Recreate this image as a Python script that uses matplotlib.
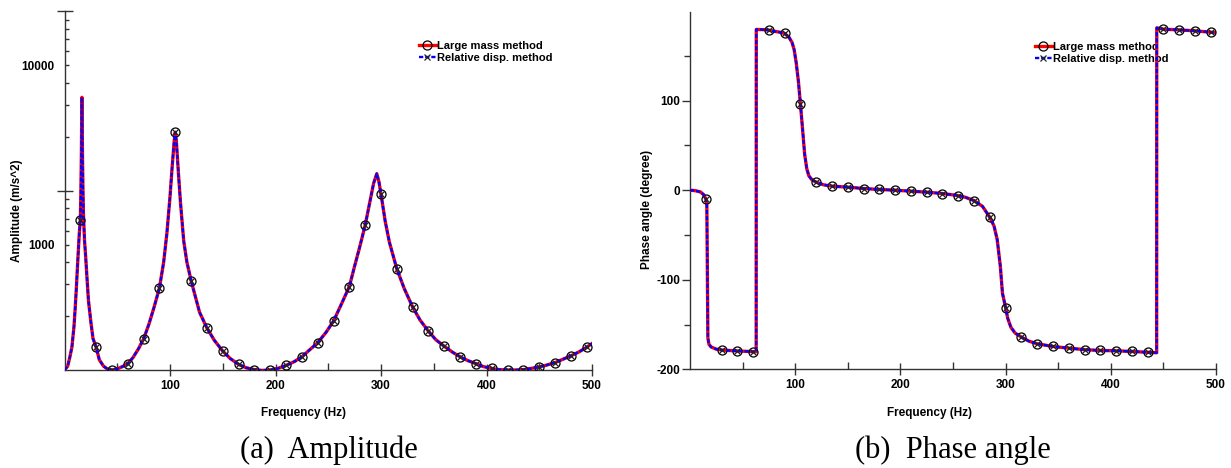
"""
Frequency response comparison: large mass method vs relative displacement method.

Produces out.png with two panels:
  (a) amplitude (log scale)
  (b) phase angle
"""

import numpy as np
import matplotlib
matplotlib.use("Agg")
import matplotlib.pyplot as plt
from matplotlib.ticker import FixedLocator, NullFormatter, FuncFormatter

OUT_PNG = "out.png"

LABEL_FONT = "Liberation Sans"
CAPTION_FONT = "Liberation Serif"
SMALL = 8.5

SERIES_LABELS = ["Large mass method", "Relative disp. method"]
SERIES_COLORS = {"large": "#ff0000", "rel": "#0000ff"}

plt.rcParams["axes.unicode_minus"] = False

# ---------------------------------------------------------------------------
# Data
# ---------------------------------------------------------------------------

amp_freq = [0, 3, 5, 7, 9, 10, 11, 12, 13, 14, 15, 15.5, 16, 16.5, 17, 17.5,
            18, 19, 20, 21, 22.7, 25, 27, 30, 33, 37, 41, 45, 50, 55, 60, 65,
            70, 75, 80, 85, 90, 94, 97, 100, 102, 104, 105, 106, 108, 110,
            113, 116, 120, 128, 135, 142, 150, 157, 165, 172, 180, 187, 195,
            202, 210, 218, 225, 232, 240, 248, 255, 262, 270, 275, 280, 285,
            290, 293, 296, 298, 300, 304, 308, 315, 322, 330, 337, 345, 352,
            360, 368, 375, 382, 390, 397, 405, 412, 420, 428, 435, 442, 450,
            457, 465, 472, 480, 488, 495, 500]
amp_large = [200, 210, 235, 268, 350, 430, 540, 700, 900, 1150, 1372, 1900,
             3200, 6640, 3300, 2000, 1450, 1050, 870, 700, 489, 370, 300, 268,
             228, 210, 202, 200, 203, 209, 217, 235, 262, 298, 360, 450, 574,
             800, 1150, 1850, 2700, 3800, 4244, 3800, 2500, 1700, 1050, 800,
             631, 420, 343, 293, 255, 232, 215, 206, 201, 199, 200, 204, 212,
             223, 237, 258, 284, 325, 375, 460, 584, 760, 980, 1284, 1800,
             2200, 2490, 2250, 1915, 1350, 1030, 733, 570, 449, 380, 329, 295,
             271, 251, 237, 226, 217, 209, 204, 201, 200, 200, 201, 204, 208,
             213, 220, 229, 240, 253, 268, 281]
# both methods give the same curve to plotting accuracy
amp_rel = list(amp_large)

phase_freq = [0, 5, 10, 13, 15, 16, 16.5, 17, 18, 20, 25, 30, 45, 60, 62.9,
              63, 70, 75, 80, 85, 90, 94, 97, 99, 101, 103, 105, 107, 109,
              111, 113, 116, 120, 127, 135, 150, 165, 180, 195, 210, 225, 240,
              255, 262, 270, 278, 285, 289, 292, 295, 297, 300, 302, 305, 309,
              315, 322, 330, 345, 360, 375, 390, 405, 420, 435, 443.6, 443.7,
              450, 465, 480, 495, 500]
phase_large = [0, -0.5, -2, -5, -9.7, -15, -90, -165, -172, -175, -177.5,
               -178.5, -179.5, -180.3, -180.5, 179.5, 179.3, 178.7, 177.5,
               176.5, 175, 171, 165, 157, 142, 122, 96, 68, 40, 24, 16, 11.5,
               9, 6, 4.5, 3.4, 1.9, 0.8, 0, -1.1, -2.2, -3.7, -6, -8, -11.6,
               -18, -30.3, -40, -55, -85, -115, -131, -143, -153, -159.5, -164,
               -168.5, -171.5, -174.5, -176.4, -178, -179, -179.3, -180.1,
               -181, -181.5, 181.3, 179.8, 179, 178, 176.4, 175.8]
phase_rel = list(phase_large)

freq_ticks = [100, 200, 300, 400, 500]
freq_minor = [50, 150, 250, 350, 450]
amp_long_ticks = [2000, 20000]
amp_minor = [400, 600, 800, 1000, 1200, 1400, 1600, 1800,
             4000, 6000, 8000, 10000, 12000, 14000, 16000, 18000]
amp_labelled = [1000, 10000]
phase_ticks = [-200, -100, 0, 100]
phase_minor = [-150, -50, 50, 150]

MARKER_STEP = 15  # Hz between plot symbols


# ---------------------------------------------------------------------------
# Plotting helpers
# ---------------------------------------------------------------------------

def marker_idx(freq):
    return [i for i, f in enumerate(freq) if f > 0 and f % MARKER_STEP == 0]


def _curves(ax, freq, y_large, y_rel):
    idx = marker_idx(freq)
    ax.plot(freq, y_large, color=SERIES_COLORS["large"], lw=2.4,
            marker="o", markevery=idx, ms=6.5, mfc="none", mec="black",
            mew=0.9, label=SERIES_LABELS[0], zorder=3)
    ax.plot(freq, y_rel, color=SERIES_COLORS["rel"], lw=1.7,
            linestyle=(0, (1.8, 0.8)), marker="x", markevery=idx, ms=5,
            mec="#222222", mew=0.9, label=SERIES_LABELS[1], zorder=4)


def _style(ax):
    for side in ("top", "right"):
        ax.spines[side].set_visible(False)
    for side in ("left", "bottom"):
        ax.spines[side].set_color("#333333")
        ax.spines[side].set_linewidth(1.0)
    ax.set_xlim(0, 500)
    ax.xaxis.set_major_locator(FixedLocator(freq_ticks))
    ax.xaxis.set_minor_locator(FixedLocator(freq_minor))
    ax.tick_params(axis="x", which="major", direction="inout", length=8,
                   width=1, color="#333333", pad=3)
    ax.tick_params(axis="x", which="minor", direction="in", length=5,
                   width=1, color="#333333")
    for lab in ax.get_xticklabels() + ax.get_yticklabels(which="both"):
        lab.set_fontfamily(LABEL_FONT)
        lab.set_fontweight("bold")
        lab.set_fontsize(SMALL)
    ax.set_xlabel("Frequency (Hz)", fontfamily=LABEL_FONT,
                  fontweight="bold", fontsize=SMALL)


def _legend(ax, fig, x_px, y_px):
    W, H = fig.get_size_inches() * fig.dpi
    leg = ax.legend(loc="upper left", bbox_to_anchor=(x_px / W, 1 - y_px / H),
                    bbox_transform=fig.transFigure, frameon=False,
                    borderpad=0, borderaxespad=0, handlelength=1.5,
                    handletextpad=0.1, labelspacing=0.18, numpoints=1,
                    prop={"family": LABEL_FONT, "weight": "bold",
                          "size": 8})
    leg.set_zorder(1)


# ---------------------------------------------------------------------------
# Main
# ---------------------------------------------------------------------------

def main():
    fig = plt.figure(figsize=(12.31, 4.68), dpi=100)
    W, H = 1231.0, 468.0

    # (a) amplitude ------------------------------------------------------
    ax1 = fig.add_axes([64.5 / W, (H - 370) / H, 527.5 / W, 358.5 / H])
    _curves(ax1, amp_freq, amp_large, amp_rel)
    ax1.set_yscale("log")
    ax1.set_ylim(200, 20000)
    ax1.yaxis.set_major_locator(FixedLocator(amp_long_ticks))
    ax1.yaxis.set_major_formatter(NullFormatter())
    ax1.yaxis.set_minor_locator(FixedLocator(amp_minor))
    ax1.yaxis.set_minor_formatter(FuncFormatter(
        lambda v, pos: f"{int(round(v))}" if int(round(v)) in amp_labelled else ""))
    ax1.tick_params(axis="y", which="major", direction="inout", length=11,
                    width=1, color="#333333")
    ax1.tick_params(axis="y", which="minor", direction="in", length=3,
                    width=1, color="#333333", pad=7)
    _style(ax1)
    ax1.set_ylabel("Amplitude (m/s^2)", fontfamily=LABEL_FONT,
                   fontweight="bold", fontsize=SMALL)
    ax1.yaxis.set_label_coords(-0.0796, 0.4435)
    ax1.xaxis.set_label_coords(0.454, -0.104)
    _legend(ax1, fig, 419, 41)

    # (b) phase angle ----------------------------------------------------
    ax2 = fig.add_axes([690 / W, (H - 369.3) / H, 526 / W, 357.3 / H])
    _curves(ax2, phase_freq, phase_large, phase_rel)
    ax2.set_ylim(-200, 199)
    ax2.yaxis.set_major_locator(FixedLocator(phase_ticks))
    ax2.yaxis.set_minor_locator(FixedLocator(phase_minor))
    ax2.tick_params(axis="y", which="major", direction="out", length=6,
                    width=1, color="#333333", pad=1)
    ax2.tick_params(axis="y", which="minor", direction="out", length=4,
                    width=1, color="#333333")
    _style(ax2)
    ax2.set_ylabel("Phase angle (degree)", fontfamily=LABEL_FONT,
                   fontweight="bold", fontsize=SMALL)
    ax2.yaxis.set_label_coords(-0.0698, 0.447)
    ax2.xaxis.set_label_coords(0.456, -0.106)
    _legend(ax2, fig, 1035, 42)

    # captions -----------------------------------------------------------
    fig.text(329 / W, 1 - 458 / H, "(a)  Amplitude", ha="center",
             va="baseline", fontfamily=CAPTION_FONT, fontsize=22)
    fig.text(952.5 / W, 1 - 458 / H, "(b)  Phase angle", ha="center",
             va="baseline", fontfamily=CAPTION_FONT, fontsize=22)

    fig.savefig(OUT_PNG, dpi=100)
    plt.close(fig)


if __name__ == "__main__":
    main()
